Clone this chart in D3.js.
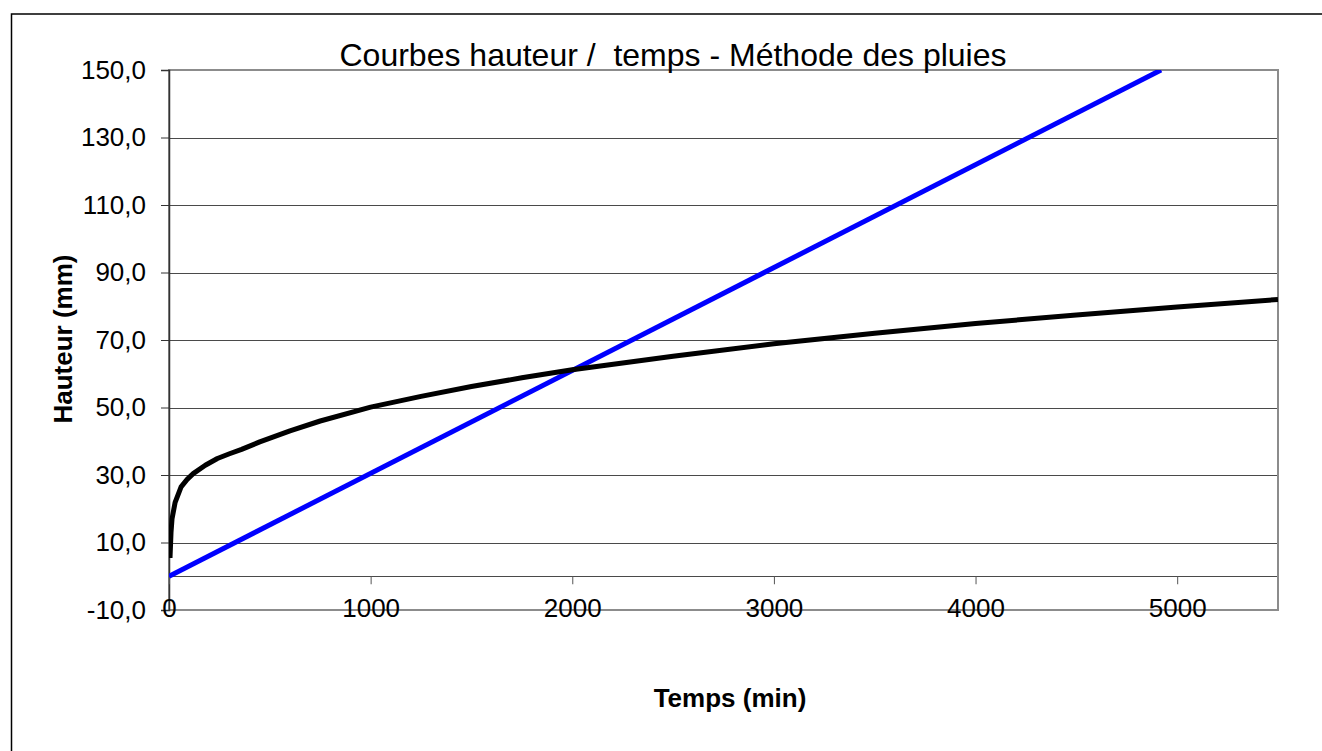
<!DOCTYPE html>
<html>
<head>
<meta charset="utf-8">
<script src="https://cdnjs.cloudflare.com/ajax/libs/d3/7.8.5/d3.min.js"></script>
<style>
  body { margin: 0; background: #fff; }
  text { font-family: "Liberation Sans", Arial, sans-serif; }
</style>
</head>
<body>
<script>
// rain curve (hauteur vs temps)
var TEMPS = [5, 10, 15, 30, 60, 90, 120, 180, 240, 300, 360, 450, 600, 750, 1000, 1250, 1500, 1750, 2000, 2500, 3000, 3500, 4000, 4500, 5000, 5500];
var HAUTEUR = [5.4, 13.0, 17.0, 21.8, 26.5, 28.7, 30.4, 32.9, 34.9, 36.3, 37.6, 39.8, 43.1, 46.0, 50.1, 53.3, 56.2, 58.8, 61.2, 65.2, 68.9, 72.0, 74.9, 77.4, 79.8, 82.0];

// evacuation line
var TEMPS_EVAC = [0, 4920];
var HAUTEUR_EVAC = [0, 150];

var Y_TICKS = [-10, 10, 30, 50, 70, 90, 110, 130, 150];
var X_TICKS = [0, 1000, 2000, 3000, 4000, 5000];

var TITLE = "Courbes hauteur /  temps - Méthode des pluies";
var X_LABEL = "Temps (min)";
var Y_LABEL = "Hauteur (mm)";

var WIDTH = 1322, HEIGHT = 751;
var PLOT = { left: 169, top: 70, right: 1278, bottom: 610 };

var svg = d3.select("body").append("svg")
  .attr("width", WIDTH)
  .attr("height", HEIGHT);

// outer frame (runs off the right and bottom edges)
svg.append("rect")
  .attr("x", 11.5).attr("y", 14)
  .attr("width", 1340).attr("height", 780)
  .attr("fill", "none")
  .attr("stroke", "#000")
  .attr("stroke-width", 1.5);

var x = d3.scaleLinear().domain([0, 5500]).range([PLOT.left, PLOT.right]);
var y = d3.scaleLinear().domain([-10, 150]).range([PLOT.bottom, PLOT.top]);

// horizontal gridlines
svg.append("g").selectAll("line")
  .data(Y_TICKS.filter(function(d) { return d != -10 && d != 150; }).concat([0]))
  .join("line")
  .attr("x1", PLOT.left).attr("x2", PLOT.right)
  .attr("y1", function(d) { return Math.round(y(d)) + 0.5; })
  .attr("y2", function(d) { return Math.round(y(d)) + 0.5; })
  .attr("stroke", "#4a4a4a")
  .attr("stroke-width", 1);

// plot border (grey)
svg.append("rect")
  .attr("x", PLOT.left).attr("y", PLOT.top)
  .attr("width", PLOT.right - PLOT.left)
  .attr("height", PLOT.bottom - PLOT.top)
  .attr("fill", "none")
  .attr("stroke", "#8c8c8c")
  .attr("stroke-width", 2);

// y axis
var yAxis = d3.axisLeft(y)
  .tickValues(Y_TICKS)
  .tickSize(8)
  .tickPadding(15)
  .tickFormat(function(d) { return d3.format(".1f")(d).replace(".", ",").replace("−", "-"); });

var gy = svg.append("g")
  .attr("transform", "translate(" + PLOT.left + ",0)")
  .call(yAxis);
gy.select(".domain").attr("stroke", "#333").attr("stroke-width", 1.5);
gy.selectAll(".tick line").attr("stroke", "#333");
gy.selectAll(".tick text")
  .attr("font-size", 26)
  .attr("font-family", "Liberation Sans, Arial, sans-serif")
  .attr("fill", "#000");

// x axis sits on y = 0
var xAxis = d3.axisBottom(x)
  .tickValues(X_TICKS)
  .tickSize(8)
  .tickPadding(0)
  .tickFormat(d3.format("d"));

var gx = svg.append("g")
  .attr("transform", "translate(0," + y(0) + ")")
  .call(xAxis);
gx.select(".domain").remove();
gx.selectAll(".tick line").attr("stroke", "#555");
gx.selectAll(".tick text")
  .attr("font-size", 26)
  .attr("font-family", "Liberation Sans, Arial, sans-serif")
  .attr("fill", "#000")
  .attr("dy", null)
  .attr("y", 41);

// clip for the series
svg.append("clipPath").attr("id", "plotclip")
  .append("rect")
  .attr("x", PLOT.left).attr("y", PLOT.top)
  .attr("width", PLOT.right - PLOT.left)
  .attr("height", PLOT.bottom - PLOT.top);

var line = d3.line()
  .x(function(d) { return x(d[0]); })
  .y(function(d) { return y(d[1]); });

svg.append("path")
  .datum(d3.zip(TEMPS_EVAC, HAUTEUR_EVAC))
  .attr("clip-path", "url(#plotclip)")
  .attr("d", line)
  .attr("fill", "none")
  .attr("stroke", "#0000ff")
  .attr("stroke-width", 5);

svg.append("path")
  .datum(d3.zip(TEMPS, HAUTEUR))
  .attr("clip-path", "url(#plotclip)")
  .attr("d", line)
  .attr("fill", "none")
  .attr("stroke", "#000")
  .attr("stroke-width", 5)
  .attr("stroke-linejoin", "round");

// titles
svg.append("text")
  .attr("x", 673).attr("y", 66)
  .attr("text-anchor", "middle")
  .attr("font-size", 32)
  .style("white-space", "pre")
  .text(TITLE);

svg.append("text")
  .attr("x", 730).attr("y", 707)
  .attr("text-anchor", "middle")
  .attr("font-size", 26)
  .attr("font-weight", "bold")
  .text(X_LABEL);

svg.append("text")
  .attr("transform", "translate(72,339) rotate(-90)")
  .attr("text-anchor", "middle")
  .attr("font-size", 26)
  .attr("font-weight", "bold")
  .text(Y_LABEL);
</script>
</body>
</html>
